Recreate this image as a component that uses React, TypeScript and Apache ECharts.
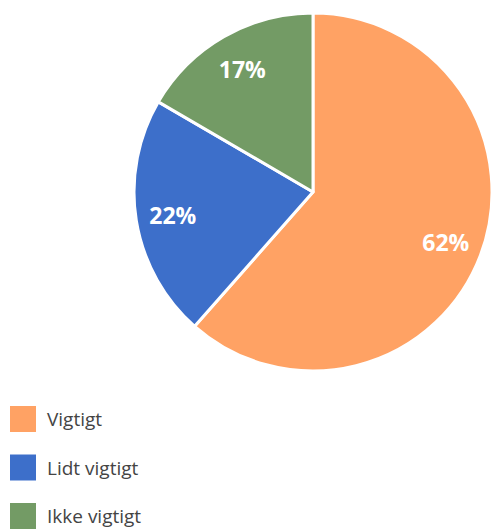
import React, { useEffect, useRef } from "react";
import * as echarts from "echarts";

const categories = ["Vigtigt", "Lidt vigtigt", "Ikke vigtigt"];
const values = [61.5, 21.9, 16.6];
const labels = ["62%", "22%", "17%"];
const colors = ["#FFA264", "#3D6FCA", "#739B65"];

export default function App() {
  const ref = useRef<HTMLDivElement>(null);
  useEffect(() => {
    document.body.style.margin = "0";
    const chart = echarts.init(ref.current!, null, { renderer: "svg" });
    const data = categories.map((name, i) => ({ name, value: values[i] }));
    chart.setOption({
      animation: false,
      color: colors,
      legend: {
        orient: "vertical",
        left: 10,
        top: 406,
        height: 200,
        padding: 0,
        icon: "rect",
        itemWidth: 26,
        itemHeight: 26,
        itemGap: 22.5,
        itemStyle: { borderWidth: 0 },
        data: categories,
        textStyle: {
          fontFamily: "Open Sans",
          fontSize: 19,
          lineHeight: 26,
          color: "#444444",
          padding: [0, 0, 0, 6],
        },
      },
      series: [
        {
          type: "pie",
          center: [313, 192],
          radius: [0, 179],
          startAngle: 90,
          clockwise: true,
          silent: true,
          itemStyle: { borderColor: "#ffffff", borderWidth: 3 },
          label: { show: false },
          labelLine: { show: false },
          data,
        },
        {
          type: "pie",
          center: [313, 192],
          radius: [0, 278],
          startAngle: 90,
          clockwise: true,
          silent: true,
          z: 5,
          itemStyle: { color: "rgba(0,0,0,0)", borderWidth: 0 },
          label: {
            show: true,
            position: "inside",
            formatter: (p: any) => labels[p.dataIndex],
            color: "#ffffff",
            fontFamily: "Open Sans",
            fontWeight: 700,
            fontSize: 23,
          },
          labelLine: { show: false },
          data,
        },
      ],
    });
    return () => chart.dispose();
  }, []);
  return <div ref={ref} style={{ width: 492, height: 529 }} />;
}
